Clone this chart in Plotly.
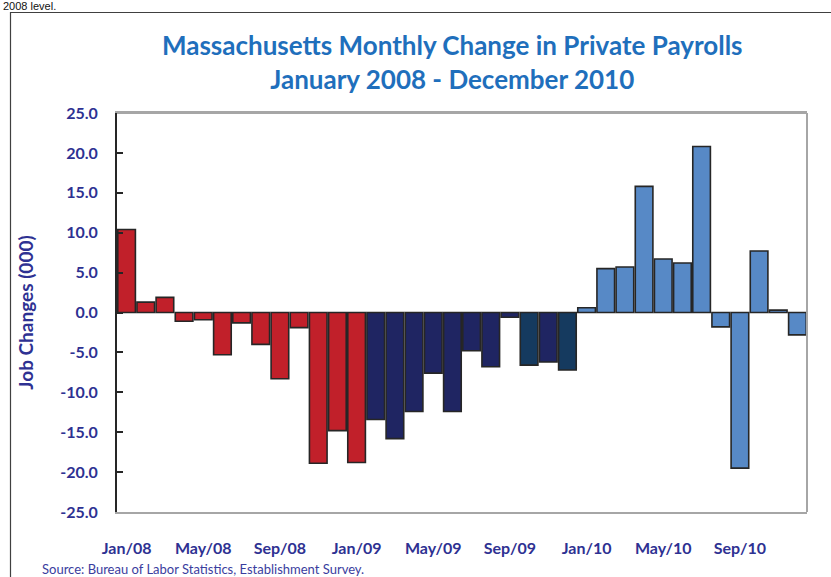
import plotly.graph_objects as go

# Monthly change in Massachusetts private payroll jobs (thousands), Jan 2008 - Dec 2010
months = [f"{m}/{y}" for y in ("08", "09", "10")
          for m in ("Jan", "Feb", "Mar", "Apr", "May", "Jun",
                    "Jul", "Aug", "Sep", "Oct", "Nov", "Dec")]
job_changes = [
    10.4, 1.3, 1.9, -1.1, -0.9, -5.3, -1.3, -4.0, -8.3, -1.9, -18.9, -14.8,
    -18.8, -13.4, -15.8, -12.4, -7.6, -12.4, -4.8, -6.8, -0.6, -6.6, -6.2, -7.2,
    0.6, 5.5, 5.7, 15.8, 6.7, 6.2, 20.8, -1.8, -19.5, 7.7, 0.3, -2.8,
]
RED, NAVY, TEAL, LIGHT = "#C1202A", "#1F2562", "#153A5F", "#5789C6"
bar_colors = ([RED] * 13 +
              [NAVY] * 8 + [TEAL, NAVY, TEAL] +
              [LIGHT] * 12)
tick_idx = list(range(0, 36, 4))
tick_text = [months[i] for i in tick_idx]
y_ticks = [25, 20, 15, 10, 5, 0, -5, -10, -15, -20, -25]

LABEL = "#2E3192"
FONT = "Lato"
HEAVY = "bold"

fig = go.Figure(go.Bar(
    x=list(range(len(job_changes))),
    y=job_changes,
    marker=dict(color=bar_colors, line=dict(color="#262626", width=1.6)),
    hovertext=months,
))

W, H = 831, 577
ML, MR, MT, MB = 117, 24, 113, 65
pw, ph = W - ML - MR, H - MT - MB


def px_x(px):
    return (px - ML) / pw


def px_y(py):
    return (H - MB - py) / ph


fig.update_layout(
    width=W, height=H,
    margin=dict(l=ML, r=MR, t=MT, b=MB),
    paper_bgcolor="white", plot_bgcolor="white",
    bargap=0.08,
    showlegend=False,
    font=dict(family=FONT, color=LABEL),
    xaxis=dict(
        range=[-0.5, 35.5],
        tickvals=tick_idx, ticktext=tick_text,
        tickfont=dict(family=FONT, size=16, color=LABEL, weight=HEAVY),
        ticks="", ticklabelstandoff=21,
        showline=True, linecolor="#A6A6A6", linewidth=2, mirror=True,
        showgrid=False, zeroline=False, fixedrange=True,
    ),
    yaxis=dict(
        range=[-25, 25],
        tickvals=y_ticks, ticktext=[f"{v:.1f}" for v in y_ticks],
        tickfont=dict(family=FONT, size=16, color=LABEL, weight=HEAVY),
        ticks="inside", ticklen=6, tickcolor="#262626", tickwidth=1.5,
        ticklabelstandoff=14,
        showline=True, linecolor="#262626", linewidth=2,
        showgrid=False, zeroline=False, fixedrange=True,
        title=dict(text="Job Changes (000)",
                   font=dict(family=FONT, size=19, color=LABEL, weight=HEAVY),
                   standoff=22),
    ),
    shapes=[
        # right/top frame of plot area in grey
        dict(type="line", xref="paper", yref="paper", x0=1, x1=1, y0=0, y1=1,
             line=dict(color="#A6A6A6", width=2)),
        dict(type="line", xref="paper", yref="paper", x0=0, x1=1, y0=1, y1=1,
             line=dict(color="#A6A6A6", width=2)),
        # outer chart border
        dict(type="rect", xref="paper", yref="paper",
             x0=px_x(10.5), x1=px_x(850), y0=px_y(12.5), y1=px_y(600),
             line=dict(color="#404040", width=1.2)),
    ],
    annotations=[
        dict(text="Massachusetts Monthly Change in Private Payrolls<br>January 2008 - December 2010",
             xref="paper", yref="paper", x=px_x(452), y=px_y(62),
             xanchor="center", yanchor="middle", showarrow=False,
             font=dict(family=FONT, size=26, color="#1F6FBC", weight=HEAVY)),
        dict(text="Source: Bureau of Labor Statistics, Establishment Survey.",
             xref="paper", yref="paper", x=px_x(40), y=px_y(569),
             xanchor="left", yanchor="middle", showarrow=False,
             font=dict(family=FONT, size=13, color="#3A3D9E")),
        dict(text="2008 level.",
             xref="paper", yref="paper", x=px_x(1), y=px_y(6),
             xanchor="left", yanchor="middle", showarrow=False,
             font=dict(family="Liberation Sans", size=11, color="#111111")),
    ],
)

fig.write_html("out.html")
